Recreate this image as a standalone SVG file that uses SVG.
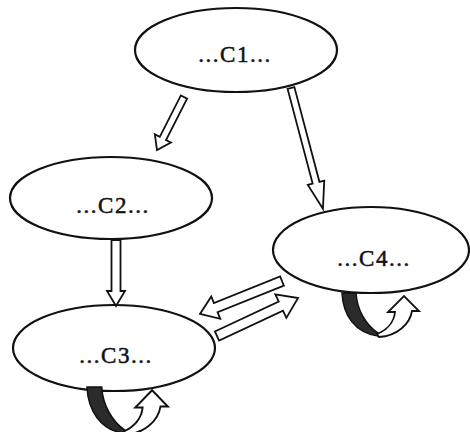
<svg xmlns="http://www.w3.org/2000/svg" width="470" height="432" viewBox="0 0 470 432">
<style>
.node ellipse{fill:#fff;stroke:#111;stroke-width:2.2}
.node text{font-family:"Liberation Serif","Times New Roman",serif;font-size:23px;letter-spacing:1.5px;text-anchor:middle;fill:#111;stroke:#111;stroke-width:0.5}
.arrow{fill:#fff;stroke:#111;stroke-width:1.8;stroke-linejoin:miter}
.dark{fill:#2b2b2b;stroke:#111;stroke-width:1.5}
.white{fill:#fff;stroke:#111;stroke-width:1.8;stroke-linejoin:miter}
</style>
<defs>
<g id="loop">
<path class="dark" d="M0,0 C1,22 13,40 36,43 L36,40 C24,32 15,17 14,0 Z"/>
<path class="white" d="M35,41 C45,37 52,29 53,19 L46,19 L62,3 L77,18 L70,18 C68,31 55,43 37,44 Z"/>
</g>
</defs>
<rect width="470" height="432" fill="#fff"/>
<g id="C1" class="node"><ellipse cx="236" cy="50" rx="101" ry="42"/><text x="235" y="62">...C1...</text></g>
<g id="C2" class="node"><ellipse cx="111" cy="198" rx="101" ry="41"/><text x="113" y="213">...C2...</text></g>
<g id="C3" class="node"><ellipse cx="114" cy="348" rx="101" ry="43"/><text x="116" y="363">...C3...</text></g>
<g id="C4" class="node"><ellipse cx="371" cy="250" rx="98" ry="43"/><text x="374" y="266">...C4...</text></g>
<g id="connectors">
<polygon class="arrow" transform="translate(184,97) rotate(117)" points="0,-3.5 46.5,-3.5 46.5,-9 59.5,0 46.5,9 46.5,3.5 0,3.5"/>
<polygon class="arrow" transform="translate(291,88) rotate(75.2)" points="0,-3.5 98,-3.5 98,-8.5 125,0 98,8.5 98,3.5 0,3.5"/>
<polygon class="arrow" transform="translate(116,240) rotate(90)" points="0,-4.5 51,-4.5 51,-9 66,0 51,9 51,4.5 0,4.5"/>
<polygon class="arrow" transform="translate(282,281) rotate(158.1)" points="0,-5 71.4,-5 71.4,-12 88.4,0 71.4,12 71.4,5 0,5"/>
<polygon class="arrow" transform="translate(217,336) rotate(-25.1)" points="0,-5 70.5,-5 70.5,-13 89.5,0 70.5,13 70.5,5 0,5"/>
<use href="#loop" transform="translate(342,293)"/>
<use href="#loop" transform="translate(87,387) scale(1.05,1.08)"/>
</g>
</svg>
